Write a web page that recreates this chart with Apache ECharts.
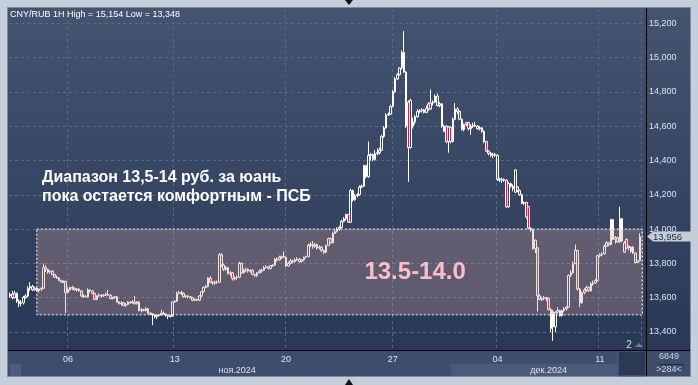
<!DOCTYPE html>
<html><head><meta charset="utf-8">
<script src="https://cdn.jsdelivr.net/npm/echarts@6/dist/echarts.min.js"></script>
<style>html,body{margin:0;padding:0;background:#c4cfdb;overflow:hidden}#c{width:698px;height:385px}</style>
</head><body><div id="c"></div>
<script>
const titleText = 'CNY/RUB 1H High = 15,154 Low = 13,348';
const weekLabels = ['06','13','20','27','04','11'];
const weekIdx = [26,74,124,172,219,265];
const monthLabels = ['ноя.2024','дек.2024'];
const monthIdx = [102,242];
const yMin = 13.295, yMax = 15.283;
const rangeLow = 13.5, rangeHigh = 14.0, rangeStartIdx = 12;
const rangeLabel = '13.5-14.0';
const noteLines = ['Диапазон 13,5-14 руб. за юань', 'пока остается комфортным - ПСБ'];

const open = [
13.61,13.62,13.60,13.625,13.58,13.565,13.57,13.60,13.61,13.655,13.665,13.645,13.655,
13.64,13.65,13.655,13.775,13.765,13.75,13.755,13.735,13.72,13.715,13.70,13.69,13.695,
13.63,13.645,13.66,13.655,13.645,13.65,13.64,13.61,13.605,13.605,13.645,13.64,13.625,
13.59,13.61,13.615,13.61,13.615,13.62,13.615,13.595,13.60,13.605,13.575,13.565,13.57,
13.555,13.56,13.575,13.57,13.575,13.565,13.575,13.525,13.53,13.525,13.535,13.51,13.505,
13.50,13.49,13.495,13.50,13.51,13.505,13.495,13.49,13.495,13.575,13.58,13.625,13.63,
13.625,13.605,13.61,13.605,13.60,13.585,13.59,13.585,13.61,13.635,13.66,13.665,13.715,
13.69,13.685,13.69,13.69,13.85,13.79,13.765,13.775,13.74,13.745,13.71,13.715,13.72,
13.80,13.745,13.76,13.765,13.755,13.76,13.735,13.73,13.745,13.755,13.76,13.775,13.78,
13.77,13.785,13.79,13.825,13.82,13.835,13.84,13.835,13.785,13.80,13.815,13.81,13.82,
13.825,13.81,13.82,13.835,13.84,13.905,13.91,13.90,13.91,13.89,13.895,13.875,13.865,
13.905,13.945,13.92,13.975,13.985,14.00,14.01,14.045,14.06,14.085,14.04,14.225,14.17,
14.195,14.20,14.245,14.25,14.37,14.305,14.43,14.435,14.405,14.44,14.445,14.46,14.54,
14.59,14.665,14.67,14.715,14.80,14.875,14.90,14.94,15.03,14.915,14.74,14.475,14.60,
14.625,14.655,14.685,14.69,14.695,14.68,14.73,14.70,14.735,14.74,14.775,14.72,14.73,
14.60,14.60,14.51,14.595,14.51,14.64,14.70,14.685,14.64,14.58,14.61,14.62,14.585,
14.60,14.605,14.60,14.585,14.59,14.57,14.51,14.455,14.44,14.43,14.435,14.43,14.29,
14.285,14.29,14.285,14.13,14.265,14.25,14.215,14.245,14.225,14.20,14.15,14.155,14.13,
14.005,13.995,13.885,13.89,13.61,13.59,13.595,13.60,13.595,13.53,13.52,13.43,13.515,
13.525,13.495,13.525,13.535,13.545,13.73,13.745,13.80,13.875,13.65,13.57,13.63,13.645,
13.66,13.64,13.68,13.685,13.70,13.845,13.85,13.855,13.90,13.92,13.91,14.055,13.94,
13.95,13.925,14.06,13.865,13.94,13.89,13.87,13.895,13.86,13.805,13.815];

const close = [
13.62,13.60,13.625,13.58,13.565,13.57,13.60,13.61,13.655,13.665,13.645,13.655,13.64,
13.65,13.655,13.775,13.765,13.75,13.755,13.735,13.72,13.715,13.70,13.69,13.695,13.63,
13.645,13.66,13.655,13.645,13.65,13.64,13.61,13.605,13.605,13.645,13.64,13.625,13.59,
13.61,13.615,13.61,13.615,13.62,13.615,13.595,13.60,13.605,13.575,13.565,13.57,13.555,
13.56,13.575,13.57,13.575,13.565,13.575,13.525,13.53,13.525,13.535,13.51,13.505,13.50,
13.49,13.495,13.50,13.51,13.505,13.495,13.49,13.495,13.575,13.58,13.625,13.63,13.625,
13.605,13.61,13.605,13.60,13.585,13.59,13.585,13.61,13.635,13.66,13.665,13.715,13.69,
13.685,13.69,13.69,13.85,13.79,13.765,13.775,13.74,13.745,13.71,13.715,13.72,13.80,
13.745,13.76,13.765,13.755,13.76,13.735,13.73,13.745,13.755,13.76,13.775,13.78,13.77,
13.785,13.79,13.825,13.82,13.835,13.84,13.835,13.785,13.80,13.815,13.81,13.82,13.825,
13.81,13.82,13.835,13.84,13.905,13.91,13.90,13.91,13.89,13.895,13.875,13.865,13.905,
13.945,13.92,13.975,13.985,14.00,14.01,14.045,14.06,14.085,14.04,14.225,14.17,14.195,
14.20,14.245,14.25,14.37,14.305,14.43,14.435,14.405,14.44,14.445,14.46,14.54,14.59,
14.665,14.67,14.715,14.80,14.875,14.90,14.94,15.03,14.915,14.60,14.475,14.75,14.625,
14.655,14.685,14.69,14.695,14.68,14.705,14.70,14.735,14.74,14.775,14.72,14.73,14.60,
14.57,14.51,14.595,14.51,14.64,14.70,14.685,14.64,14.58,14.61,14.62,14.585,14.60,
14.605,14.60,14.585,14.59,14.57,14.51,14.455,14.44,14.43,14.435,14.43,14.29,14.285,
14.29,14.285,14.13,14.265,14.25,14.235,14.345,14.225,14.20,14.15,14.155,14.07,14.005,
13.995,13.885,13.935,13.61,13.59,13.595,13.60,13.595,13.53,13.42,13.43,13.515,13.525,
13.495,13.525,13.535,13.545,13.73,13.745,13.80,13.875,13.65,13.57,13.63,13.645,13.66,
13.64,13.68,13.685,13.70,13.845,13.85,13.855,13.90,13.92,13.91,14.055,13.94,13.95,
13.925,14.06,13.93,13.92,13.89,13.90,13.895,13.86,13.805,13.815,13.956];

const low = [
13.60,13.59,13.595,13.57,13.545,13.55,13.56,13.595,13.605,13.64,13.64,13.64,13.635,
13.63,13.64,13.65,13.75,13.74,13.74,13.73,13.715,13.71,13.695,13.685,13.685,13.51,
13.625,13.64,13.645,13.64,13.635,13.635,13.605,13.60,13.60,13.60,13.63,13.62,13.585,
13.585,13.605,13.60,13.605,13.61,13.61,13.59,13.59,13.595,13.57,13.56,13.555,13.55,
13.545,13.555,13.565,13.565,13.56,13.56,13.52,13.515,13.52,13.52,13.505,13.50,13.44,
13.48,13.475,13.49,13.495,13.50,13.49,13.475,13.485,13.49,13.57,13.575,13.62,13.615,
13.60,13.60,13.595,13.595,13.58,13.58,13.58,13.58,13.605,13.63,13.655,13.66,13.685,
13.675,13.675,13.68,13.685,13.78,13.755,13.755,13.735,13.725,13.70,13.70,13.705,13.715,
13.74,13.74,13.75,13.745,13.745,13.73,13.72,13.72,13.74,13.745,13.755,13.77,13.765,
13.765,13.78,13.785,13.81,13.815,13.825,13.83,13.78,13.78,13.795,13.80,13.805,13.815,
13.805,13.805,13.815,13.83,13.835,13.895,13.885,13.89,13.88,13.88,13.865,13.855,13.86,
13.90,13.915,13.915,13.97,13.98,13.99,14.005,14.04,14.05,14.035,14.035,14.16,14.165,
14.185,14.195,14.24,14.245,14.295,14.30,14.40,14.395,14.40,14.43,14.435,14.455,14.53,
14.585,14.66,14.665,14.71,14.795,14.87,14.895,14.93,14.91,14.59,14.275,14.47,14.585,
14.61,14.65,14.675,14.68,14.675,14.675,14.69,14.695,14.72,14.735,14.715,14.71,14.59,
14.565,14.50,14.445,14.50,14.505,14.635,14.67,14.635,14.575,14.57,14.60,14.575,14.55,
14.59,14.595,14.58,14.575,14.56,14.50,14.45,14.43,14.42,14.415,14.42,14.28,14.275,
14.27,14.275,14.125,14.125,14.24,14.22,14.21,14.215,14.195,14.145,14.14,14.06,14.00,
13.985,13.88,13.86,13.52,13.585,13.58,13.585,13.58,13.525,13.40,13.348,13.40,13.51,
13.49,13.49,13.515,13.525,13.54,13.72,13.74,13.795,13.64,13.545,13.565,13.62,13.635,
13.635,13.635,13.67,13.68,13.695,13.835,13.84,13.85,13.895,13.90,13.905,13.935,13.915,
13.92,13.92,13.925,13.86,13.885,13.875,13.86,13.855,13.80,13.80,13.81];

const high = [
13.63,13.64,13.64,13.63,13.59,13.585,13.61,13.62,13.665,13.69,13.675,13.665,13.66,
13.655,13.66,13.80,13.79,13.77,13.76,13.76,13.74,13.73,13.72,13.705,13.70,13.70,
13.66,13.665,13.67,13.66,13.655,13.655,13.645,13.62,13.615,13.655,13.65,13.645,13.63,
13.615,13.625,13.62,13.62,13.63,13.645,13.62,13.605,13.61,13.61,13.58,13.58,13.575,
13.57,13.58,13.58,13.585,13.61,13.58,13.58,13.54,13.535,13.545,13.54,13.515,13.51,
13.505,13.50,13.505,13.53,13.52,13.51,13.50,13.50,13.58,13.585,13.635,13.64,13.64,
13.63,13.615,13.615,13.61,13.605,13.595,13.595,13.615,13.64,13.665,13.675,13.72,13.725,
13.695,13.70,13.70,13.86,13.86,13.80,13.785,13.78,13.755,13.75,13.725,13.73,13.81,
13.805,13.77,13.775,13.77,13.765,13.765,13.74,13.75,13.765,13.77,13.785,13.79,13.785,
13.79,13.795,13.83,13.835,13.845,13.845,13.87,13.84,13.81,13.825,13.82,13.83,13.835,
13.83,13.825,13.84,13.845,13.915,13.925,13.93,13.92,13.915,13.905,13.90,13.88,13.91,
13.95,13.95,13.985,13.995,14.01,14.02,14.055,14.07,14.09,14.09,14.235,14.23,14.205,
14.21,14.255,14.26,14.375,14.375,14.51,14.445,14.44,14.46,14.47,14.475,14.55,14.60,
14.675,14.68,14.725,14.81,14.885,14.91,14.945,15.04,15.154,14.92,14.75,14.76,14.65,
14.665,14.70,14.70,14.705,14.70,14.72,14.74,14.815,14.75,14.785,14.79,14.74,14.735,
14.61,14.605,14.60,14.60,14.65,14.735,14.71,14.69,14.645,14.615,14.625,14.625,14.61,
14.62,14.625,14.605,14.60,14.595,14.575,14.515,14.46,14.45,14.445,14.445,14.435,14.30,
14.30,14.295,14.29,14.275,14.27,14.26,14.35,14.25,14.23,14.205,14.16,14.16,14.135,
14.01,14.00,13.94,13.895,13.62,13.605,13.61,13.605,13.60,13.54,13.53,13.52,13.545,
13.53,13.53,13.545,13.55,13.735,13.76,13.81,13.91,13.88,13.655,13.635,13.655,13.67,
13.665,13.69,13.70,13.71,13.85,13.86,13.865,13.91,13.93,13.925,14.06,14.06,13.96,
13.955,14.13,14.065,13.93,13.945,13.905,13.90,13.90,13.865,13.82,13.975];

const categories = open.map((_, i) => String(i));
const ohlc = open.map((o, i) => [o, close[i], low[i], high[i]]);
const fmt = v => v.toFixed(3).replace('.', ',');
const labelColor = '#dbe3ef';
const gridLineStyle = { color: '#586989', type: [3, 3], width: 1 };
const FONT = '"Liberation Sans", Arial, sans-serif';
const NARROW = '"Liberation Sans Narrow", "Arial Narrow", "Liberation Sans", sans-serif';

const chart = echarts.init(document.getElementById('c'), null, { renderer: 'canvas' });
chart.setOption({
  backgroundColor: '#c4cfdb',
  animation: false,
  grid: { left: 9, right: 57, top: 9, bottom: 35 },
  xAxis: [{
    type: 'category', data: categories, boundaryGap: true,
    axisLine: { show: false }, axisTick: { show: false },
    axisLabel: {
      interval: (i) => weekIdx.includes(i),
      formatter: (v, i) => weekLabels[weekIdx.indexOf(Number(v))] || '',
      color: labelColor, fontSize: 9, fontFamily: FONT, margin: 5
    },
    splitLine: { show: true, interval: (i) => weekIdx.includes(i), lineStyle: gridLineStyle }
  }, {
    type: 'category', data: categories, boundaryGap: true, position: 'bottom', offset: 11,
    axisLine: { show: false }, axisTick: { show: false },
    axisLabel: {
      interval: (i) => monthIdx.includes(i),
      formatter: (v) => monthLabels[monthIdx.indexOf(Number(v))] || '',
      color: labelColor, fontSize: 9, fontFamily: FONT, margin: 5
    },
    splitLine: { show: false }
  }],
  yAxis: {
    type: 'value', position: 'right', min: yMin, max: yMax, splitNumber: 10, offset: 5, scale: true,
    axisLine: { show: false }, axisTick: { show: false },
    axisLabel: { color: labelColor, fontSize: 9, fontFamily: FONT, margin: 3, formatter: fmt, showMinLabel: false, showMaxLabel: false },
    splitLine: { show: true, showMinLine: false, showMaxLine: false, lineStyle: gridLineStyle }
  },
  series: [{
    type: 'candlestick', data: ohlc, barWidth: 2,
    itemStyle: { color: 'rgba(0,0,0,0)', color0: '#e8153f', borderColor: '#ffffff', borderColor0: '#ffffff', borderWidth: 1 }
  }]
});

const px = (i, v) => chart.convertToPixel({ xAxisIndex: 0, yAxisIndex: 0 }, [i, v]);
const topLeft = px(rangeStartIdx, rangeHigh);
const botRight = px(categories.length - 1, rangeLow);
const boxX = topLeft[0], boxY = topLeft[1], boxW = botRight[0] + 2.5 - topLeft[0], boxH = botRight[1] - topLeft[1];
const lastClose = close[close.length - 1];
const lastY = px(categories.length - 1, lastClose)[1];
const labelPos = px(182, (rangeLow + rangeHigh) / 2);

chart.setOption({
  graphic: [
    { type: 'rect', z: -100, shape: { x: 7, y: 7, width: 684, height: 370 }, style: { fill: '#7d8ca3' } },
    { type: 'rect', z: -99, shape: { x: 8, y: 8, width: 682, height: 342 },
      style: { fill: new echarts.graphic.LinearGradient(0, 0, 0, 1, [{ offset: 0, color: '#44546f' }, { offset: 1, color: '#2a3857' }]) } },
    { type: 'rect', z: -99, shape: { x: 8, y: 350, width: 682, height: 26 }, style: { fill: '#3d4d6b' } },
    { type: 'rect', z: -98, shape: { x: 451, y: 364, width: 166, height: 12 }, style: { fill: '#4a5a77' } },
    { type: 'rect', z: -98, shape: { x: 10, y: 364, width: 11, height: 12 }, style: { fill: '#4c5c79' } },
    { type: 'rect', z: -98, shape: { x: 618, y: 351, width: 28, height: 25 }, style: { fill: '#2b3955', stroke: '#56668a', lineWidth: 1 } },
    { type: 'line', z: 50, shape: { x1: 8, y1: 350.5, x2: 690, y2: 350.5 }, style: { stroke: '#000000', lineWidth: 1 } },
    { type: 'line', z: 50, shape: { x1: 646.5, y1: 8, x2: 646.5, y2: 376 }, style: { stroke: '#000000', lineWidth: 1 } },
    { type: 'rect', z: 100, shape: { x: boxX, y: boxY, width: boxW, height: boxH },
      style: { fill: 'rgba(208,160,152,0.30)', stroke: '#ffffff', lineWidth: 1, lineDash: [2, 2] } },
    { type: 'text', z: 101, style: { x: labelPos[0], y: labelPos[1], text: rangeLabel, fill: '#fbbccb', font: 'bold 24px ' + NARROW, align: 'center', verticalAlign: 'middle' } },
    { type: 'text', z: 101, style: { x: 42, y: 178, text: noteLines[0], fill: '#ffffff', font: 'bold 16px ' + FONT, align: 'left', verticalAlign: 'middle' } },
    { type: 'text', z: 101, style: { x: 42, y: 197, text: noteLines[1], fill: '#ffffff', font: 'bold 16px ' + FONT, align: 'left', verticalAlign: 'middle' } },
    { type: 'text', z: 101, style: { x: 10, y: 15, text: titleText, fill: '#ffffff', font: '9px ' + FONT, align: 'left', verticalAlign: 'middle' } },
    { type: 'polygon', z: 102, shape: { points: [[647, lastY], [653, lastY - 5], [698, lastY - 5], [698, lastY + 5], [653, lastY + 5]] }, style: { fill: '#c7ccd4' } },
    { type: 'text', z: 103, style: { x: 653, y: lastY + 0.5, text: fmt(lastClose), fill: '#1b2945', font: '9.5px ' + FONT, align: 'left', verticalAlign: 'middle' } },
    { type: 'text', z: 101, style: { x: 629, y: 345, text: '2', fill: '#d6dfec', font: '10px ' + FONT, align: 'center', verticalAlign: 'middle' } },
    { type: 'polygon', z: 101, shape: { points: [[635, 347], [639, 343], [643, 347]] }, style: { fill: '#6b7a96' } },
    { type: 'text', z: 101, style: { x: 669, y: 357, text: '6849', fill: '#cdd7e6', font: '9px ' + FONT, align: 'center', verticalAlign: 'middle' } },
    { type: 'line', z: 101, shape: { x1: 659, y1: 364.5, x2: 684, y2: 364.5 }, style: { stroke: '#1e2a40', lineWidth: 1 } },
    { type: 'text', z: 101, style: { x: 669, y: 370, text: '>284<', fill: '#cdd7e6', font: '9px ' + FONT, align: 'center', verticalAlign: 'middle' } },
    { type: 'polygon', z: 101, shape: { points: [[345, 0], [353, 0], [349, 5]] }, style: { fill: '#111111' } },
    { type: 'polygon', z: 101, shape: { points: [[345, 385], [353, 385], [349, 379]] }, style: { fill: '#111111' } }
  ]
});
</script></body></html>
